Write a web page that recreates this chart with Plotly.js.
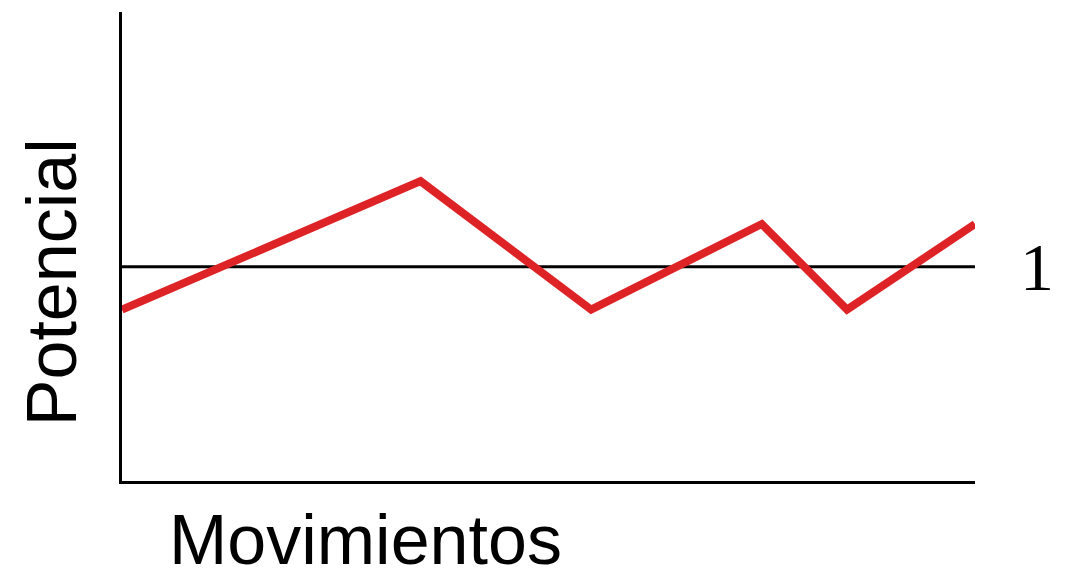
<!DOCTYPE html>
<html>
<head>
<meta charset="utf-8">
<script src="https://cdn.plot.ly/plotly-3.0.1.min.js"></script>
<style>html,body{margin:0;padding:0;background:#fff;}#chart{width:1071px;height:572px;}</style>
</head>
<body>
<div id="chart"></div>
<script>
// Data
var moves = [0, 7, 11, 15, 17, 20];
var potential = [0.8, 1.4, 0.8, 1.2, 0.8, 1.2];
var levelX = [0, 20];
var levelY = [1, 1];
var levelLabel = "1";
var xLabel = "Movimientos";
var yLabel = "Potencial";

var traces = [
  {x: levelX, y: levelY, mode: 'lines', line: {color: '#000000', width: 3}, hoverinfo: 'skip', showlegend: false},
  {x: moves, y: potential, mode: 'lines', line: {color: '#de2327', width: 8}, showlegend: false}
];

var layout = {
  width: 1071, height: 572,
  margin: {l: 122, r: 96, t: 12, b: 91, pad: 0},
  paper_bgcolor: '#ffffff', plot_bgcolor: '#ffffff',
  showlegend: false,
  xaxis: {range: [0, 20], showline: true, linecolor: '#000', linewidth: 3, showgrid: false, zeroline: false, showticklabels: false, ticks: ''},
  yaxis: {range: [0, 2.19], showline: true, linecolor: '#000', linewidth: 3, showgrid: false, zeroline: false, showticklabels: false, ticks: ''},
  annotations: [
    {text: xLabel, xref: 'paper', yref: 'paper', x: 0.285, y: -0.126, xanchor: 'center', yanchor: 'middle', showarrow: false,
     font: {family: 'Liberation Sans, Arial, sans-serif', size: 70, color: '#000'}},
    {text: yLabel, xref: 'paper', yref: 'paper', x: -0.082, y: 0.424, xanchor: 'center', yanchor: 'middle', textangle: -90, showarrow: false,
     font: {family: 'Liberation Sans, Arial, sans-serif', size: 70, color: '#000'}},
    {text: levelLabel, xref: 'paper', yref: 'y', x: 1.0727, y: levelY[0], xanchor: 'center', yanchor: 'middle', showarrow: false,
     font: {family: 'Liberation Serif, Times New Roman, serif', size: 68, color: '#000'}}
  ]
};

Plotly.newPlot('chart', traces, layout, {displayModeBar: false, staticPlot: true});
</script>
</body>
</html>
